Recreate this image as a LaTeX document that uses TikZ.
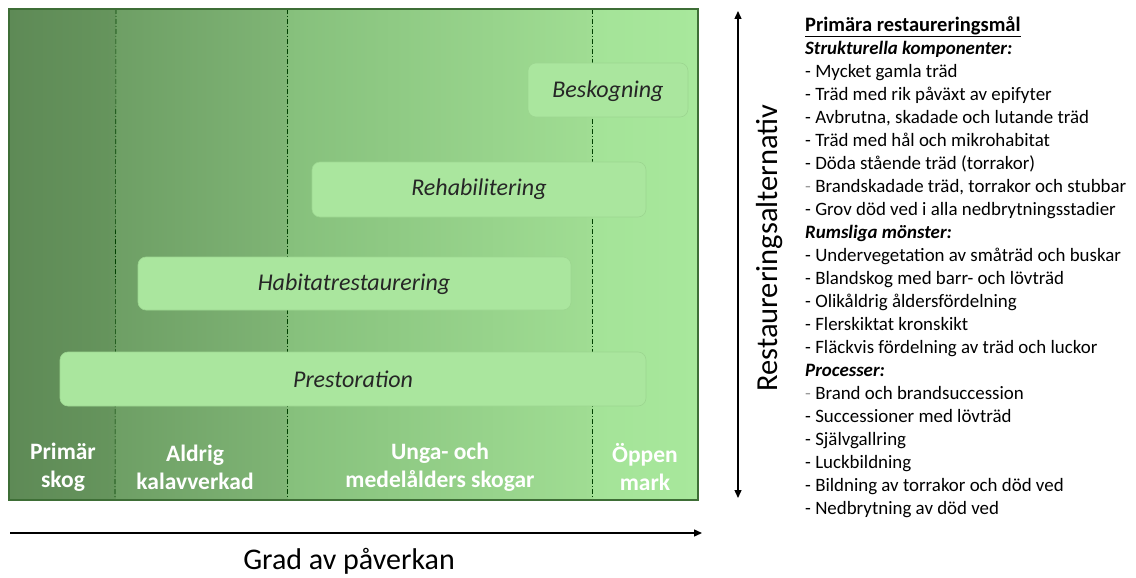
\documentclass[tikz,border=0pt]{standalone}
\usepackage{fontspec}
\setmainfont{Carlito}
\usetikzlibrary{arrows.meta}

\definecolor{frameGreen}{HTML}{3E6E36}
\definecolor{boxFill}{HTML}{AAE69E}
\definecolor{boxLine}{HTML}{9CD690}
\definecolor{dashGrey}{HTML}{9A9A9A}
\definecolor{gA}{HTML}{5E8A56}
\definecolor{gB}{HTML}{66955D}
\definecolor{gC}{HTML}{6E9F65}
\definecolor{gD}{HTML}{7FB575}
\definecolor{gE}{HTML}{86C07C}
\definecolor{gF}{HTML}{A0DD93}
\definecolor{gG}{HTML}{A4E398}
\definecolor{gH}{HTML}{A8E89C}

% background of the forest-state panel: dark (left) to light (right), one band per state;
% the panel itself maps onto 25bp..75bp of the shading
\pgfdeclarehorizontalshading{forestgrad}{100bp}{%
  color(0bp)=(gA);
  color(25bp)=(gA);
  color(32.69bp)=(gB);
  color(32.76bp)=(gC);
  color(45.17bp)=(gD);
  color(45.25bp)=(gE);
  color(67.31bp)=(gF);
  color(67.38bp)=(gG);
  color(75bp)=(gH);
  color(100bp)=(gH)}

\begin{document}
\begin{tikzpicture}[x=1pt,y=-1pt,
  optbox/.style={rounded corners=8pt, fill=boxFill, draw=boxLine, line width=0.6pt},
  optlabel/.style={font=\fontsize{24}{28}\selectfont\itshape, text=black!85},
  statelabel/.style={align=center, text=white, font=\fontsize{23.5}{28}\selectfont\bfseries},
  divider/.style={black!75!green, line width=0.6pt, dash pattern=on 5pt off 2pt on 1pt off 2pt},
  axis/.style={line width=1.4pt, -{Triangle[length=8pt,width=7pt]}},
  listtext/.style={align=left, anchor=north west, inner sep=0pt,
                   font=\fontsize{18.9}{23}\selectfont}
]
\useasboundingbox (0,0) rectangle (1136,578);

% panel
\path[shading=forestgrad] (9,9) rectangle (698,500);

% state dividers
\coordinate (d1t) at (116,9);   \coordinate (d1b) at (115,500);
\coordinate (d2t) at (287,9);   \coordinate (d2b) at (287,500);
\coordinate (d3t) at (592,9);   \coordinate (d3b) at (592,500);
\draw[divider] (d1t) -- (d1b);
\draw[divider] (d2t) -- (d2b);
\draw[divider] (d3t) -- (d3b);

% restoration options
\draw[optbox] (528,63) rectangle (688,117);
\node[optlabel] (besk) at (608,91) {Beskogning};
\draw[optbox] (312,162) rectangle (646,217);
\node[optlabel] (rehab) at (479,189) {Rehabilitering};
\draw[optbox] (138,257) rectangle (571,310);
\node[optlabel] (habit) at (354,284) {Habitatrestaurering};
\draw[optbox] (60,352) rectangle (646,406);
\node[optlabel] (prest) at (353,379) {Prestoration};

% forest states
\node[statelabel] (primar) at (63,467) {Primär\\skog};
\node[statelabel] (aldrig) at (195,467) {Aldrig\\kalavverkad};
\node[statelabel] (unga) at (440,467) {Unga- och\\medelålders skogar};
\node[statelabel] (oppen) at (645,467) {Öppen\\mark};

% panel frame
\draw[frameGreen, line width=1.2pt] (9,9) rectangle (698,500);

% impact axis
\coordinate (hx0) at (10,533);
\coordinate (hx1) at (702,533);
\draw[axis] (hx0) -- (hx1);
\node[font=\fontsize{30}{33}\selectfont, inner sep=1pt] (grad) at (349,561) {Grad av påverkan};

% restoration alternatives axis
\coordinate (vy0) at (738,498);
\coordinate (vy1) at (738,11);
\draw[line width=1.4pt, {Triangle[length=8pt,width=7pt]}-{Triangle[length=8pt,width=7pt]}] (vy0) -- (vy1);
\node[rotate=90, font=\fontsize{30.5}{34}\selectfont] (alt) at (770,248) {Restaureringsalternativ};

% goals list
\node[listtext] (goals) at (805,16) {%
{\fontsize{20.5}{23}\selectfont\textbf{\underline{Primära restaureringsmål}}}\\
\textbf{\textit{Strukturella komponenter:}}\\
- Mycket gamla träd\\
- Träd med rik påväxt av epifyter\\
- Avbrutna, skadade och lutande träd\\
- Träd med hål och mikrohabitat\\
- Döda stående träd (torrakor)\\
\textcolor{dashGrey}{-} Brandskadade träd, torrakor och stubbar\\
- Grov död ved i alla nedbrytningsstadier\\
\textbf{\textit{Rumsliga mönster:}}\\
- Undervegetation av småträd och buskar\\
- Blandskog med barr- och lövträd\\
- Olikåldrig åldersfördelning\\
- Flerskiktat kronskikt\\
- Fläckvis fördelning av träd och luckor\\
\textbf{\textit{Processer:}}\\
\textcolor{dashGrey}{-} Brand och brandsuccession\\
- Successioner med lövträd\\
- Självgallring\\
- Luckbildning\\
- Bildning av torrakor och död ved\\
- Nedbrytning av död ved};
\end{tikzpicture}
\end{document}
